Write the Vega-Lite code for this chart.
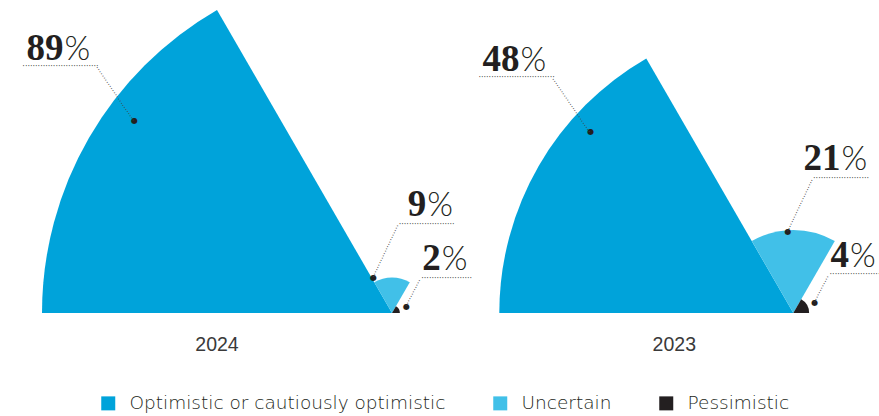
{
  "$schema": "https://vega.github.io/schema/vega-lite/v6.json",
  "width": 879,
  "height": 313,
  "padding": 0,
  "background": "white",
  "config": {"view": {"stroke": null}, "font": "Liberation Sans"},
  "data": {
    "values": [
      {"year": 2024, "category": "Optimistic or cautiously optimistic", "value": 89},
      {"year": 2024, "category": "Uncertain", "value": 9},
      {"year": 2024, "category": "Pessimistic", "value": 2},
      {"year": 2023, "category": "Optimistic or cautiously optimistic", "value": 48},
      {"year": 2023, "category": "Uncertain", "value": 21},
      {"year": 2023, "category": "Pessimistic", "value": 4}
    ]
  },
  "encoding": {
    "x": {"field": "year", "type": "ordinal", "scale": {"type": "point", "domain": [2024, 2023], "range": [392, 793.3], "padding": 0}, "axis": null},
    "y": {"datum": 0, "type": "quantitative", "scale": {"domain": [0, 1], "nice": false, "zero": false}, "axis": null},
    "radius": {"field": "value", "type": "quantitative", "stack": null, "scale": {"type": "linear", "domain": [0, 21, 48, 89], "range": [0, 83, 294, 350], "zero": false, "nice": false}}
  },
  "layer": [
    {
      "mark": {"type": "arc"},
      "encoding": {
        "theta": {"field": "category", "type": "nominal", "scale": {"type": "band", "domain": ["Optimistic or cautiously optimistic", "Uncertain", "Pessimistic"], "range": [-1.5708, 1.5708], "paddingInner": 0, "paddingOuter": 0}},
        "color": {
          "field": "category", "type": "nominal",
          "scale": {"domain": ["Optimistic or cautiously optimistic", "Uncertain", "Pessimistic"], "range": ["#00A3DA", "#41C0E8", "#231F20"]},
          "legend": {"orient": "none", "legendX": 99, "legendY": 394, "direction": "horizontal", "title": null, "symbolType": "square", "symbolSize": 196, "symbolStrokeWidth": 0, "labelFontSize": 18.5, "labelFont": "DejaVu Sans", "labelFontWeight": 300, "labelColor": "#231F20", "labelOffset": 12, "columnPadding": 45, "labelLimit": 500}
        }
      }
    },
    {
      "transform": [{"filter": "datum.category === 'Optimistic or cautiously optimistic'"}],
      "mark": {"type": "text", "theta": -1.5708, "radiusOffset": -175, "yOffset": 38, "align": "center", "baseline": "alphabetic", "fontSize": 19.5, "font": "Liberation Sans", "color": "#3a3a3a"},
      "encoding": {"text": {"field": "year", "type": "nominal"}}
    },
    {
      "transform": [{"filter": "datum.category === 'Optimistic or cautiously optimistic'"}],
      "layer": [
        {"mark": {"type": "text", "text": "●", "theta": -1.36136, "xOffset": 84.9, "yOffset": -119.7, "align": "center", "baseline": "middle", "fontSize": 8, "font": "DejaVu Sans", "color": "#231F20"}, "encoding": {}},
        {"mark": {"type": "text", "text": "··························", "theta": -1.36136, "xOffset": 84.9, "yOffset": -119.7, "angle": -124.5, "align": "left", "baseline": "middle", "fontSize": 8, "font": "DejaVu Sans", "color": "#444444"}, "encoding": {}},
        {"mark": {"type": "text", "text": "······························", "theta": -1.36136, "xOffset": -27.3, "yOffset": -173.4, "align": "left", "baseline": "middle", "fontSize": 8, "font": "DejaVu Sans", "color": "#444444"}, "encoding": {}},
        {"mark": {"type": "text", "theta": -1.36136, "xOffset": 13.8, "yOffset": -180.5, "align": "right", "baseline": "alphabetic", "fontSize": 37, "font": "Liberation Serif", "fontWeight": "bold", "color": "#231F20"}, "encoding": {"text": {"field": "value", "type": "quantitative", "format": "d"}}},
        {"mark": {"type": "text", "text": "%", "theta": -1.36136, "xOffset": 14.8, "yOffset": -180.5, "align": "left", "baseline": "alphabetic", "fontSize": 33, "font": "Lato", "fontWeight": 300, "color": "#231F20"}, "encoding": {}}
      ]
    },
    {
      "transform": [{"filter": "datum.category === 'Uncertain'"}],
      "layer": [
        {"mark": {"type": "text", "text": "●", "theta": 0.27925, "xOffset": -28.2, "yOffset": -0.8, "align": "center", "baseline": "middle", "fontSize": 8, "font": "DejaVu Sans", "color": "#231F20"}, "encoding": {}},
        {"mark": {"type": "text", "text": "·······················", "theta": 0.27925, "xOffset": -28.2, "yOffset": -0.8, "angle": -64.6, "align": "left", "baseline": "middle", "fontSize": 8, "font": "DejaVu Sans", "color": "#444444"}, "encoding": {}},
        {"mark": {"type": "text", "text": "······················", "theta": 0.27925, "xOffset": -3.1, "yOffset": -53.8, "align": "left", "baseline": "middle", "fontSize": 8, "font": "DejaVu Sans", "color": "#444444"}, "encoding": {}},
        {"mark": {"type": "text", "theta": 0.27925, "xOffset": 24.4, "yOffset": -63.3, "align": "right", "baseline": "alphabetic", "fontSize": 37, "font": "Liberation Serif", "fontWeight": "bold", "color": "#231F20"}, "encoding": {"text": {"field": "value", "type": "quantitative", "format": "d"}}},
        {"mark": {"type": "text", "text": "%", "theta": 0.27925, "xOffset": 25.4, "yOffset": -63.3, "align": "left", "baseline": "alphabetic", "fontSize": 33, "font": "Lato", "fontWeight": 300, "color": "#231F20"}, "encoding": {}}
      ]
    },
    {
      "transform": [{"filter": "datum.category === 'Pessimistic'"}],
      "layer": [
        {"mark": {"type": "text", "text": "●", "theta": 1.0821, "xOffset": 7.5, "yOffset": -2.4, "align": "center", "baseline": "middle", "fontSize": 8, "font": "DejaVu Sans", "color": "#231F20"}, "encoding": {}},
        {"mark": {"type": "text", "text": "············", "theta": 1.0821, "xOffset": 7.5, "yOffset": -2.4, "angle": -62.4, "align": "left", "baseline": "middle", "fontSize": 8, "font": "DejaVu Sans", "color": "#444444"}, "encoding": {}},
        {"mark": {"type": "text", "text": "····················", "theta": 1.0821, "xOffset": 22.3, "yOffset": -30.7, "align": "left", "baseline": "middle", "fontSize": 8, "font": "DejaVu Sans", "color": "#444444"}, "encoding": {}},
        {"mark": {"type": "text", "theta": 1.0821, "xOffset": 41.8, "yOffset": -38.9, "align": "right", "baseline": "alphabetic", "fontSize": 37, "font": "Liberation Serif", "fontWeight": "bold", "color": "#231F20"}, "encoding": {"text": {"field": "value", "type": "quantitative", "format": "d"}}},
        {"mark": {"type": "text", "text": "%", "theta": 1.0821, "xOffset": 42.8, "yOffset": -38.9, "align": "left", "baseline": "alphabetic", "fontSize": 33, "font": "Lato", "fontWeight": 300, "color": "#231F20"}, "encoding": {}}
      ]
    }
  ]
}
